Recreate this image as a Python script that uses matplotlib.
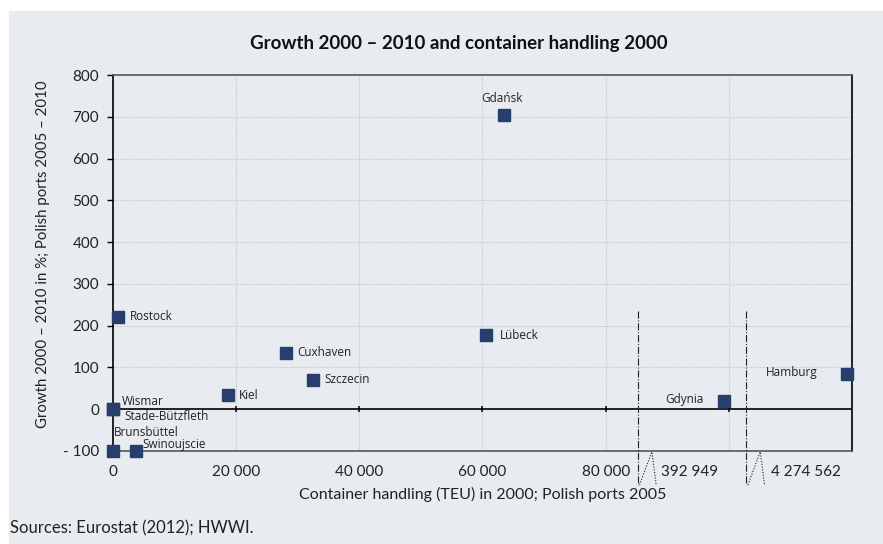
import matplotlib
matplotlib.use("Agg")
import matplotlib.pyplot as plt
import numpy as np

# port data: container handling (TEU) and growth in %
ports = ["Gdańsk", "Rostock", "Cuxhaven", "Szczecin", "Kiel", "Lübeck",
         "Wismar", "Stade-Bützfleth", "Brunsbüttel", "Swinoujscie",
         "Gdynia", "Hamburg"]
teu = [63500, 800, 28100, 32400, 18600, 60600,
       0, 0, 0, 3800,
       392949, 4274562]
growth = [705, 221, 135, 70, 33, 177,
          0, 0, -100, -100,
          19, 84]

x_ticks = [0, 20000, 40000, 60000, 80000]
x_ticklabels = ["0", "20 000", "40 000", "60 000", "80 000"]
y_ticks = [-100, 0, 100, 200, 300, 400, 500, 600, 700, 800]
y_ticklabels = ["- 100", "0", "100", "200", "300", "400", "500", "600", "700", "800"]
break_labels = ["392 949", "4 274 562"]

# broken axis: large ports get a fixed slot right of the break
BREAK_SLOTS = {392949: 99200, 4274562: 119200}
BREAK_LINES = [85200, 102800]
BREAK_LABEL_X = [93700, 112500]


def to_display(v):
    return BREAK_SLOTS.get(v, v)


# label offsets in points, and horizontal alignment
LABEL_POS = {
    "Gdańsk": (-1.5, 11.5, "center"),
    "Rostock": (8.5, 0, "left"),
    "Cuxhaven": (8, 0, "left"),
    "Szczecin": (8.5, 0, "left"),
    "Kiel": (8, 0, "left"),
    "Lübeck": (9.5, 0, "left"),
    "Wismar": (6.5, 5.5, "left"),
    "Stade-Bützfleth": (8.5, -5, "left"),
    "Brunsbüttel": (0.5, 13.5, "left"),
    "Swinoujscie": (4.5, 5, "left"),
    "Gdynia": (-14.5, 1.5, "right"),
    "Hamburg": (-21.5, 1.5, "right"),
}

BG = "#e8ebf0"
NAVY = "#283f6e"
FONT = "Lato"
plt.rcParams["font.family"] = [FONT, "DejaVu Sans"]

fig = plt.figure(figsize=(8.83, 5.44), dpi=100)
fig.patch.set_facecolor("white")
fig.patches.append(plt.Rectangle((9 / 883, 0), 873 / 883, 533 / 544,
                                 transform=fig.transFigure, color=BG, zorder=-10))

ax = fig.add_axes([113 / 883, 93 / 544, 739 / 883, 376 / 544])
ax.set_facecolor(BG)
ax.set_xlim(0, 120000)
ax.set_ylim(-100, 800)

# grid
for gx in [20000, 40000, 60000, 80000, 100000]:
    ax.axvline(gx, color="#c4c7cc", lw=0.8, ls=(0, (1, 1)), zorder=1)
for gy in range(100, 800, 100):
    ax.axhline(gy, color="#c4c7cc", lw=0.8, ls=(0, (1, 1)), zorder=1)

# zero line with ticks
ax.axhline(0, color="black", lw=1.2, zorder=2)
ax.plot([20000, 40000, 60000, 80000, 100000], [0] * 5, ls="none", marker="|",
        ms=5, mew=1.1, color="black", zorder=2)

for side in ["top", "bottom"]:
    ax.spines[side].set_color("#555555")
    ax.spines[side].set_linewidth(1.2)
for side in ["left", "right"]:
    ax.spines[side].set_color("black")
    ax.spines[side].set_linewidth(1.2)

ax.set_yticks(y_ticks)
ax.set_yticklabels(y_ticklabels)
ax.tick_params(axis="y", length=4, width=1, direction="out", labelsize=11,
               labelcolor="#222222", pad=6)
ax.set_xticks(x_ticks)
ax.set_xticklabels(x_ticklabels)
ax.tick_params(axis="x", length=0, labelsize=11, labelcolor="#222222", pad=10)

# broken axis labels
for bx, lab in zip(BREAK_LABEL_X, break_labels):
    ax.annotate(lab, xy=(bx, -100), xycoords="data", xytext=(0, -10),
                textcoords="offset points", ha="center", va="top",
                fontsize=11, color="#222222", annotation_clip=False)

# break markers
for bx in BREAK_LINES:
    ax.plot([bx, bx], [235, -181], color="#222222", lw=0.8, ls="-.",
            clip_on=False, zorder=3)
    ax.plot([bx + 300, bx + 2300, bx + 3000], [-181, -102, -181], color="#222222",
            lw=0.8, ls=(0, (1, 1.5)), clip_on=False, zorder=3)

# points and labels
xs = [to_display(v) for v in teu]
ax.plot(xs, growth, ls="none", marker="s", ms=8.5, color=NAVY, zorder=4,
        clip_on=False)
for name, x, y in zip(ports, xs, growth):
    dx, dy, ha = LABEL_POS[name]
    ax.annotate(name, xy=(x, y), xytext=(dx, dy), textcoords="offset points",
                ha=ha, va="center", fontsize=8.5, color="#222222",
                family=["Open Sans", "DejaVu Sans"], annotation_clip=False,
                zorder=5)

fig.text(459 / 883, 1 - 44 / 544, "Growth 2000 – 2010 and container handling 2000",
         ha="center", va="center", fontsize=13.5, fontweight="bold", color="#111111")
ax.set_xlabel("Container handling (TEU) in 2000; Polish ports 2005",
              fontsize=11.5, color="#222222", labelpad=6)
fig.text(43 / 883, 1 - 254 / 544, "Growth 2000 – 2010 in %; Polish ports 2005 – 2010",
         rotation=90, ha="center", va="center", fontsize=10.8, color="#222222")
fig.text(10 / 883, 1 - 528 / 544, "Sources: Eurostat (2012); HWWI.",
         ha="left", va="center", fontsize=12, color="#222222")

fig.savefig("out.png", dpi=100, facecolor=fig.get_facecolor())
